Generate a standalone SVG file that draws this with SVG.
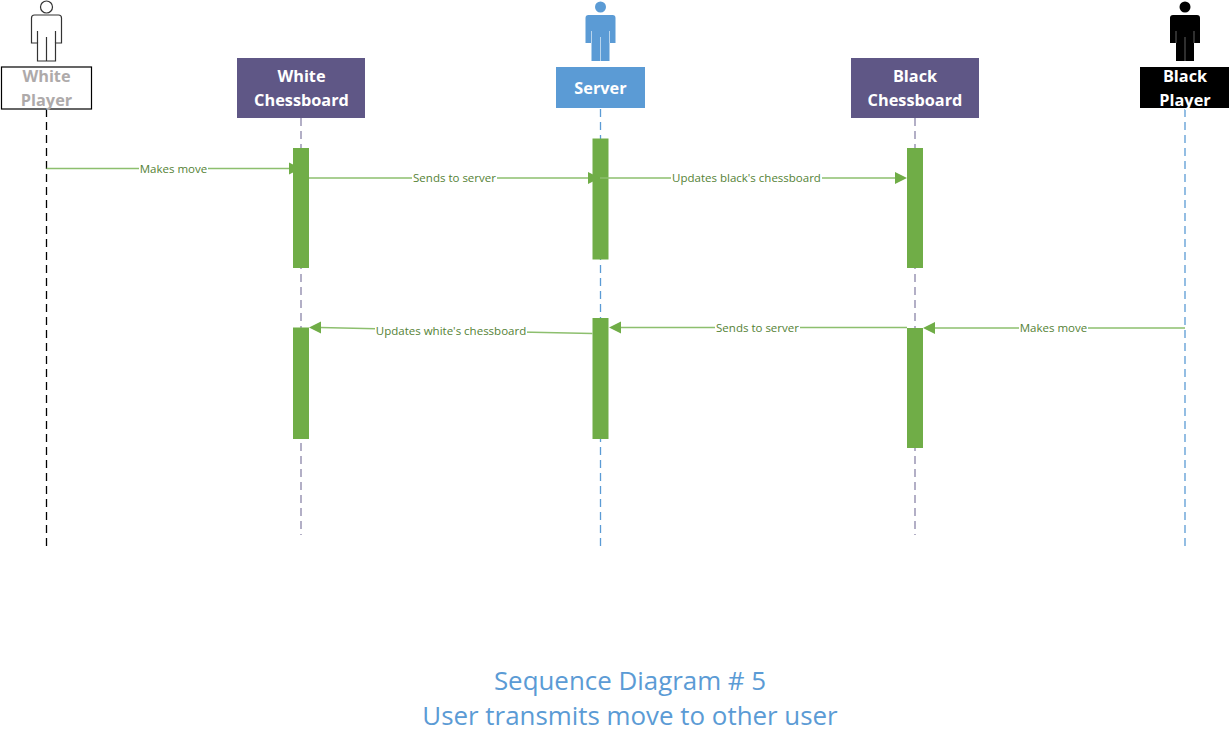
<svg xmlns="http://www.w3.org/2000/svg" width="1231" height="749" viewBox="0 0 1231 749">
<style>
text{font-family:"Open Sans","Noto Sans","DejaVu Sans",sans-serif;text-anchor:middle}
.nl{font-size:16.300px;font-weight:700;fill:#fff}
.ml{font-size:11.500px;fill:#548235}
.t{font-size:25.900px;fill:#5b9bd5}
.ll{fill:none;stroke-width:1.300;stroke-dasharray:8 5}
.msg{fill:none;stroke:#8dbf6e;stroke-width:1.500}
.bar{fill:#70ad47}
.lb{fill:#fff}
.arrow{fill:#70ad47}
</style>
<defs>
<path id="body" d="M-15 43V18Q-15 15-12 15H12Q15 15 15 18V43H9V61H-9V43Z"/>
<path id="limbs" d="M-9 31V43M9 31V43M0 37V61"/>
</defs>
<rect width="1231" height="749" fill="#fff"/>
<g id="lifelines">
<path class="ll" stroke="#000" d="M46.500 109V547"/>
<path class="ll" stroke="#8a85a8" d="M301 118V535"/>
<path class="ll" stroke="#5b9bd5" d="M600.500 109V547"/>
<path class="ll" stroke="#8a85a8" d="M915 118V535"/>
<path class="ll" stroke="#5b9bd5" d="M1185 109V547"/>
</g>
<g id="white-player">
<circle cx="46.500" cy="7" r="6" fill="#fff" stroke="#333" stroke-width="1.200"/>
<use href="#body" x="46.500" fill="#fff" stroke="#333" stroke-width="1.200"/>
<use href="#limbs" x="46.500" fill="none" stroke="#333" stroke-width="1.200"/>
<rect x="1.500" y="67" width="90" height="42" fill="#fff" stroke="#000" stroke-width="1.200"/>
<text class="nl" style="fill:#aeaaaa" x="46.500" y="82">White</text>
<text class="nl" style="fill:#aeaaaa" x="46.500" y="106">Player</text>
</g>
<g id="white-chessboard">
<rect x="237" y="58" width="128" height="60" fill="#5f5786"/>
<text class="nl" x="301.500" y="82">White</text>
<text class="nl" x="301.500" y="106">Chessboard</text>
</g>
<g id="server">
<circle cx="600.500" cy="7" r="5.500" fill="#5b9bd5"/>
<use href="#body" x="600.500" fill="#5b9bd5"/>
<use href="#limbs" x="600.500" fill="none" stroke="#cfe2f3" stroke-width="0.800"/>
<rect x="556" y="67" width="89" height="41" fill="#5b9bd5"/>
<text class="nl" x="600.500" y="94">Server</text>
</g>
<g id="black-chessboard">
<rect x="851" y="58" width="128" height="60" fill="#5f5786"/>
<text class="nl" x="915" y="82">Black</text>
<text class="nl" x="915" y="106">Chessboard</text>
</g>
<g id="black-player">
<circle cx="1185" cy="7" r="5.500" fill="#000"/>
<use href="#body" x="1185" fill="#000"/>
<use href="#limbs" x="1185" fill="none" stroke="#777" stroke-width="0.800"/>
<rect x="1140" y="67" width="89" height="41" fill="#000"/>
<text class="nl" x="1185" y="82">Black</text>
<text class="nl" x="1185" y="106">Player</text>
</g>
<g id="activations">
<rect class="bar" x="293" y="148" width="16" height="120"/>
<rect class="bar" x="592.500" y="138.500" width="16" height="121"/>
<rect class="bar" x="907" y="148" width="16" height="120"/>
<rect class="bar" x="293" y="327.500" width="16" height="111.500"/>
<rect class="bar" x="592.500" y="318" width="16" height="121"/>
<rect class="bar" x="907" y="328" width="16" height="120"/>
</g>
<g id="connectors">
<path class="msg" d="M46.500 168.500H293"/>
<path class="arrow" d="M289 162.500L301 168.500L289 174.500Z"/>
<rect class="lb" x="139" y="163" width="69" height="12"/>
<text class="ml" x="173.500" y="173">Makes move</text>
<path class="msg" d="M309 178H597"/>
<path class="arrow" d="M588 172L600 178L588 184Z"/>
<rect class="lb" x="412" y="172" width="85" height="12"/>
<text class="ml" x="454.500" y="182">Sends to server</text>
<path class="msg" d="M600 178H896"/>
<path class="arrow" d="M895 172L907 178L895 184Z"/>
<rect class="lb" x="671" y="172" width="151" height="12"/>
<text class="ml" x="746.500" y="182">Updates black's chessboard</text>
<path class="msg" d="M592.500 333.500L320 327.500"/>
<path class="arrow" d="M321 321.500L309 327.500L321 333.500Z"/>
<rect class="lb" x="375" y="325" width="152" height="12"/>
<text class="ml" x="451" y="335">Updates white's chessboard</text>
<path class="msg" d="M907 327.500H620"/>
<path class="arrow" d="M621 321.500L609 327.500L621 333.500Z"/>
<rect class="lb" x="715" y="322" width="85" height="12"/>
<text class="ml" x="757.500" y="332">Sends to server</text>
<path class="msg" d="M1185 328H934"/>
<path class="arrow" d="M935 322L923 328L935 334Z"/>
<rect class="lb" x="1019" y="322" width="69" height="12"/>
<text class="ml" x="1053.500" y="332">Makes move</text>
</g>
<g id="caption">
<text class="t" x="630" y="690">Sequence Diagram # 5</text>
<text class="t" x="630" y="725">User transmits move to other user</text>
</g>
</svg>
